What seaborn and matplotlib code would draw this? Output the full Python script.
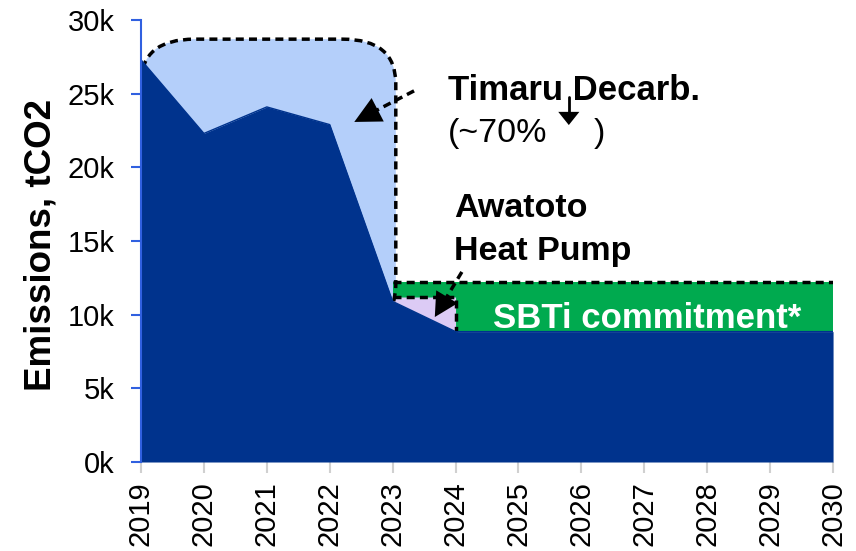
import numpy as np
import seaborn as sns
import matplotlib.pyplot as plt
import pandas as pd
from matplotlib.patches import FancyBboxPatch
from matplotlib.ticker import FuncFormatter

# dados (tCO2)
anos = [2019, 2020, 2021, 2022, 2023, 2024, 2025, 2026, 2027, 2028, 2029, 2030]
emissoes = [27300, 22300, 24100, 22900, 10900, 8850, 8850, 8850, 8850, 8850, 8850, 8850]
sbti_topo = 12200       # topo da faixa SBTi
awatoto_topo = 11200    # topo da caixa Awatoto
timaru_topo = 28700     # topo da caixa Timaru
timaru_base = 9000
yticks = [0, 5000, 10000, 15000, 20000, 25000, 30000]

azul_escuro = '#00338D'
azul_claro = '#B4CFFA'
verde = '#00AA4F'
lilas = '#DCCBF5'
tracejado = (0, (2.3, 1.5))

sns.set_style('white')
plt.rcParams['font.family'] = ['Liberation Sans', 'DejaVu Sans']
plt.rcParams['text.color'] = 'black'
plt.rcParams['axes.labelcolor'] = 'black'
plt.rcParams['xtick.labelcolor'] = 'black'
plt.rcParams['ytick.labelcolor'] = 'black'

df = pd.DataFrame({'ano': anos, 'emissoes': emissoes})

fig = plt.figure(figsize=(8.56, 5.51), dpi=100)
ax = fig.add_axes([0.1647, 0.1615, 0.8085, 0.8022])

# caixa arredondada Timaru (fundo e borda separados)
caixa = dict(boxstyle='round,pad=0,rounding_size=0.85', mutation_aspect=3000 / 0.85)
ax.add_patch(FancyBboxPatch((anos[0], timaru_base), 2023.05 - anos[0], timaru_topo - timaru_base,
                            facecolor=azul_claro, edgecolor='none', zorder=1, **caixa))

# faixa SBTi
ax.fill_between([2023, 2030], [emissoes[5]] * 2, [sbti_topo] * 2, color=verde, lw=0, zorder=1)
# caixa Awatoto
ax.fill_between([2023, 2024], emissoes[4:6], [awatoto_topo] * 2, color=lilas, lw=0, zorder=1.2)

ax.add_patch(FancyBboxPatch((anos[0], timaru_base), 2023.05 - anos[0], timaru_topo - timaru_base,
                            facecolor='none', edgecolor='black', lw=2.5, linestyle=tracejado,
                            zorder=1.5, **caixa))
ax.plot([2023, 2030], [sbti_topo] * 2, color='black', lw=2.5, linestyle=tracejado, zorder=1.5)
ax.plot([2023, 2024, 2024], [awatoto_topo, awatoto_topo, emissoes[5]], color='black', lw=2.5,
        linestyle=tracejado, zorder=1.5)

# emissões
ax.fill_between(df['ano'], 0, df['emissoes'], color=azul_escuro, lw=0, zorder=2)
sns.lineplot(data=df, x='ano', y='emissoes', color=azul_escuro, lw=1, ax=ax, zorder=2)


# setas: haste + ponta sólida
def seta(inicio, base, ponta, hl=1.9, hw=0.95, estilo=tracejado, lw=2.5):
    ax.plot([inicio[0], base[0]], [inicio[1], base[1]], color='black', lw=lw,
            linestyle=estilo, zorder=4)
    ax.annotate('', xy=ponta, xytext=inicio, zorder=4,
                arrowprops=dict(arrowstyle='-|>,head_length={},head_width={}'.format(hl, hw),
                                facecolor='black', edgecolor='none', lw=0, shrinkA=0, shrinkB=0))


seta((2023.34, 25190), (2022.74, 23860), (2022.39, 23080))
seta((2024.10, 12900), (2023.85, 11130), (2023.67, 9840), hl=1.7, hw=0.9)
seta((2025.80, 24750), (2025.80, 23700), (2025.80, 22870), hl=0.95, hw=0.76, estilo='-', lw=2)

ax.text(2023.88, 24580, 'Timaru Decarb.', fontsize=25, fontweight='bold', va='baseline', zorder=5)
ax.text(2023.88, 21720, '(~70%', fontsize=24.5, va='baseline', zorder=5)
ax.text(2026.19, 21720, ')', fontsize=24.5, va='baseline', zorder=5)
ax.text(2023.98, 16630, 'Awatoto', fontsize=24.5, fontweight='bold', va='baseline', zorder=5)
ax.text(2023.98, 13710, 'Heat Pump', fontsize=24.5, fontweight='bold', va='baseline', zorder=5)
ax.text(2024.60, 9100, 'SBTi commitment*', fontsize=25, fontweight='bold', color='white',
        va='baseline', zorder=5)

# eixos
ax.set_xlim(2019, 2030)
ax.set_ylim(0, 30000)
ax.set_xticks(anos)
ax.set_xticklabels([str(a) for a in anos], rotation=90, fontsize=21)
ax.set_yticks(yticks)
ax.yaxis.set_major_formatter(FuncFormatter(lambda v, p: '{}k'.format(int(v / 1000))))
ax.tick_params(axis='y', labelsize=21, length=7, width=1.5, color='#3060E0', pad=12, left=True)
ax.tick_params(axis='x', length=8, width=1.5, color='#D0D0D0', pad=6, bottom=True)
ax.set_xlabel('')
ax.set_ylabel('Emissions, tCO2', fontsize=26.5, fontweight='bold')
ax.yaxis.set_label_coords(-0.119, 0.49)
for lado in ['top', 'right', 'bottom']:
    ax.spines[lado].set_visible(False)
ax.spines['left'].set_color('#3060E0')
ax.spines['left'].set_linewidth(1.5)
ax.spines['left'].set_zorder(6)

fig.savefig('out.png', dpi=100)
